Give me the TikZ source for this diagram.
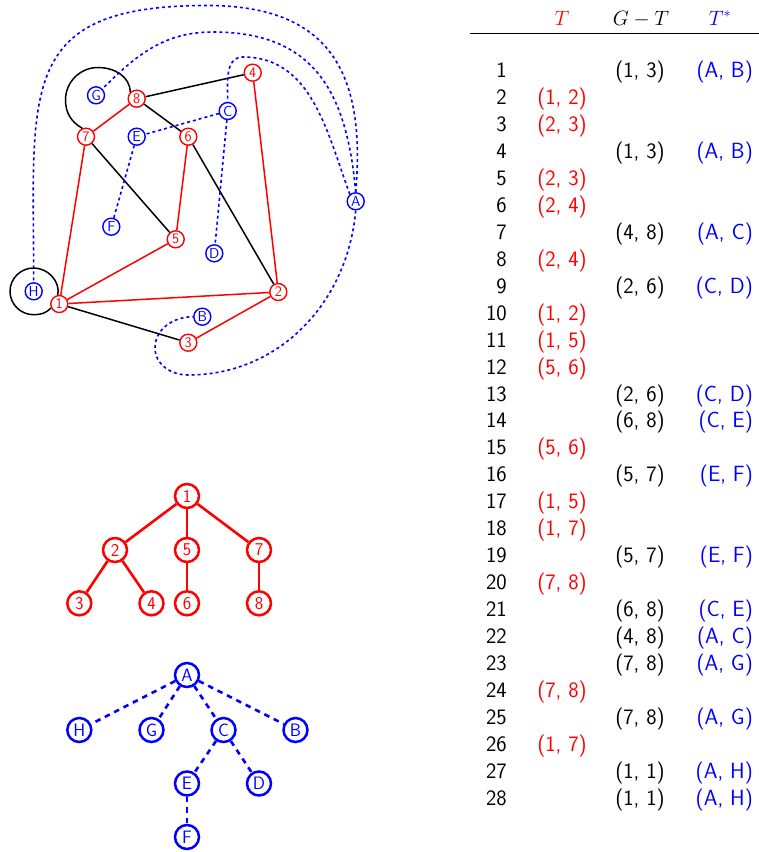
\documentclass[tikz,border=0pt]{standalone}
\usepackage{fontspec}
\definecolor{cred}{RGB}{255,0,0}
\definecolor{cblue}{RGB}{0,0,255}
\tikzset{
  gnode/.style={circle, draw, fill=white, minimum size=17pt, inner sep=0pt, line width=1.4pt, font=\fontsize{14.5}{15}\sffamily},
  rg/.style={gnode, draw=cred, text=cred},
  bg/.style={gnode, draw=cblue, text=cblue},
  pedge/.style={line width=1.5pt, black},
  redge/.style={line width=1.5pt, cred},
  dedge/.style={line width=1.6pt, cblue, dash pattern=on 3pt off 3pt},
  tnode/.style={circle, draw, fill=white, minimum size=24pt, inner sep=0pt, line width=2.5pt, font=\fontsize{18}{19}\sffamily},
  rt/.style={tnode, draw=cred, text=cred},
  bt/.style={tnode, draw=cblue, text=cblue},
  rtedge/.style={line width=2.6pt, cred},
  btedge/.style={line width=2.6pt, cblue, dash pattern=on 5.5pt off 5pt},
  tabtext/.style={inner sep=0pt, font=\fontsize{22}{24}\sffamily},
  tnum/.style={tabtext, anchor=base east},
  tT/.style={tabtext, anchor=base, text=cred},
  tG/.style={tabtext, anchor=base},
  tS/.style={tabtext, anchor=base east, text=cblue},
  hdr/.style={tabtext, anchor=base, font=\fontsize{22}{24}\selectfont},
}
\begin{document}
\begin{tikzpicture}[x=1pt,y=1pt]
\useasboundingbox (0,0) rectangle (759,-852);

% ---------- primal graph nodes ----------
\node[rg] (n1) at (59.3,-304) {1};
\node[rg] (n2) at (278.3,-292) {2};
\node[rg] (n3) at (188.3,-342.7) {3};
\node[rg] (n4) at (252.7,-72.7) {4};
\node[rg] (n5) at (175.7,-239.3) {5};
\node[rg] (n6) at (188.3,-136.7) {6};
\node[rg] (n7) at (86,-136.7) {7};
\node[rg] (n8) at (136.7,-98.7) {8};
% ---------- dual graph nodes ----------
\node[bg] (nA) at (355.7,-201.3) {A};
\node[bg] (nB) at (202.3,-316.7) {B};
\node[bg] (nC) at (227.7,-111) {C};
\node[bg] (nD) at (214.3,-253.3) {D};
\node[bg] (nE) at (136.7,-136.7) {E};
\node[bg] (nF) at (111.3,-226.7) {F};
\node[bg] (nG) at (96,-95.3) {G};
\node[bg] (nH) at (33.7,-291.3) {H};

% helper coordinates for curved edges
\coordinate (l78a) at (65.5,-100);
\coordinate (l78b) at (98,-67.5);
\coordinate (l1t) at (33.7,-268);
\coordinate (l1l) at (10,-291.3);
\coordinate (l1b) at (33.7,-314.7);
\coordinate (ahT) at (207,-5.5);
\coordinate (agT) at (213,-32);
\coordinate (acT) at (243,-57);
\coordinate (abB) at (188,-375);
\coordinate (abL) at (155,-348);

% ---------- primal edges ----------
\draw[redge] (n1) -- (n7);
\draw[redge] (n7) -- (n8);
\draw[redge] (n1) -- (n5);
\draw[redge] (n5) -- (n6);
\draw[redge] (n1) -- (n2);
\draw[redge] (n2) -- (n3);
\draw[redge] (n2) -- (n4);
\draw[pedge] (n1) -- (n3);
\draw[pedge] (n7) -- (n5);
\draw[pedge] (n8) -- (n4);
\draw[pedge] (n8) -- (n6);
\draw[pedge] (n6) -- (n2);
\draw[pedge] (n7.114) to[out=150,in=-90] (l78a) to[out=90,in=180] (l78b) to[out=0,in=90] (n8.135);
\draw[pedge] (n1.99) to[out=80,in=0] (l1t) to[out=180,in=90] (l1l) to[out=-90,in=180] (l1b) to[out=0,in=225] (n1.206);

% ---------- dual edges ----------
\draw[dedge] (nA.north) to[out=85,in=0,looseness=1.3] (ahT) to[out=180,in=90,looseness=1.5] (nH.north);
\draw[dedge] (nA.north) to[out=95,in=0,looseness=1.2] (agT) to[out=180,in=45] (nG.45);
\draw[dedge] (nA.130) to[out=110,in=0] (acT) to[out=180,in=90] (nC.north);
\draw[dedge] (nA.south) to[out=-95,in=0] (abB) to[out=180,in=-90] (abL) to[out=90,in=180] (nB.west);
\draw[dedge] (nC) -- (nE);
\draw[dedge] (nC) -- (nD);
\draw[dedge] (nE) -- (nF);

% ---------- red spanning tree ----------
\node[rt] (t1) at (187,-496) {1};
\node[rt] (t2) at (115,-550) {2};
\node[rt] (t5) at (187,-550) {5};
\node[rt] (t7) at (259,-550) {7};
\node[rt] (t3) at (79.3,-603.3) {3};
\node[rt] (t4) at (151.5,-603.3) {4};
\node[rt] (t6) at (187,-603.3) {6};
\node[rt] (t8) at (259,-603.3) {8};
\draw[rtedge] (t1) -- (t2);
\draw[rtedge] (t1) -- (t5);
\draw[rtedge] (t1) -- (t7);
\draw[rtedge] (t2) -- (t3);
\draw[rtedge] (t2) -- (t4);
\draw[rtedge] (t5) -- (t6);
\draw[rtedge] (t7) -- (t8);

% ---------- blue dual tree ----------
\node[bt] (uA) at (187,-675) {A};
\node[bt] (uH) at (79.3,-730) {H};
\node[bt] (uG) at (151.5,-730) {G};
\node[bt] (uC) at (223.5,-730) {C};
\node[bt] (uB) at (295.5,-730) {B};
\node[bt] (uE) at (187,-783.5) {E};
\node[bt] (uD) at (259,-783.5) {D};
\node[bt] (uF) at (187,-837) {F};
\draw[btedge] (uA) -- (uH);
\draw[btedge] (uA) -- (uG);
\draw[btedge] (uA) -- (uC);
\draw[btedge] (uA) -- (uB);
\draw[btedge] (uC) -- (uE);
\draw[btedge] (uC) -- (uD);
\draw[btedge] (uE) -- (uF);

% ---------- table ----------
\node[hdr, text=cred] (hT) at (562,-25) {$T$};
\node[hdr] (hG) at (641,-25) {$G-T$};
\node[hdr, text=cblue] (hS) at (720,-25) {$T^*$};
\coordinate (ruleL) at (470,-33.5);
\coordinate (ruleR) at (759,-33.5);
\draw[line width=1pt] (ruleL) -- (ruleR);

\foreach \i in {1,...,28} {
  \node[tnum] (r\i) at (507,{-77.5-(\i-1)*26.96}) {\i};
}
\def\ry#1{{-77.5-(#1-1)*26.96}}
\node[tG] (g1) at (640,\ry{1}) {(1, 3)};  \node[tS] (s1) at (753,\ry{1}) {(A, B)};
\node[tT] (a2) at (562,\ry{2}) {(1, 2)};
\node[tT] (a3) at (562,\ry{3}) {(2, 3)};
\node[tG] (g4) at (640,\ry{4}) {(1, 3)};  \node[tS] (s4) at (753,\ry{4}) {(A, B)};
\node[tT] (a5) at (562,\ry{5}) {(2, 3)};
\node[tT] (a6) at (562,\ry{6}) {(2, 4)};
\node[tG] (g7) at (640,\ry{7}) {(4, 8)};  \node[tS] (s7) at (753,\ry{7}) {(A, C)};
\node[tT] (a8) at (562,\ry{8}) {(2, 4)};
\node[tG] (g9) at (640,\ry{9}) {(2, 6)};  \node[tS] (s9) at (753,\ry{9}) {(C, D)};
\node[tT] (a10) at (562,\ry{10}) {(1, 2)};
\node[tT] (a11) at (562,\ry{11}) {(1, 5)};
\node[tT] (a12) at (562,\ry{12}) {(5, 6)};
\node[tG] (g13) at (640,\ry{13}) {(2, 6)};  \node[tS] (s13) at (753,\ry{13}) {(C, D)};
\node[tG] (g14) at (640,\ry{14}) {(6, 8)};  \node[tS] (s14) at (753,\ry{14}) {(C, E)};
\node[tT] (a15) at (562,\ry{15}) {(5, 6)};
\node[tG] (g16) at (640,\ry{16}) {(5, 7)};  \node[tS] (s16) at (753,\ry{16}) {(E, F)};
\node[tT] (a17) at (562,\ry{17}) {(1, 5)};
\node[tT] (a18) at (562,\ry{18}) {(1, 7)};
\node[tG] (g19) at (640,\ry{19}) {(5, 7)};  \node[tS] (s19) at (753,\ry{19}) {(E, F)};
\node[tT] (a20) at (562,\ry{20}) {(7, 8)};
\node[tG] (g21) at (640,\ry{21}) {(6, 8)};  \node[tS] (s21) at (753,\ry{21}) {(C, E)};
\node[tG] (g22) at (640,\ry{22}) {(4, 8)};  \node[tS] (s22) at (753,\ry{22}) {(A, C)};
\node[tG] (g23) at (640,\ry{23}) {(7, 8)};  \node[tS] (s23) at (753,\ry{23}) {(A, G)};
\node[tT] (a24) at (562,\ry{24}) {(7, 8)};
\node[tG] (g25) at (640,\ry{25}) {(7, 8)};  \node[tS] (s25) at (753,\ry{25}) {(A, G)};
\node[tT] (a26) at (562,\ry{26}) {(1, 7)};
\node[tG] (g27) at (640,\ry{27}) {(1, 1)};  \node[tS] (s27) at (753,\ry{27}) {(A, H)};
\node[tG] (g28) at (640,\ry{28}) {(1, 1)};  \node[tS] (s28) at (753,\ry{28}) {(A, H)};
\end{tikzpicture}
\end{document}
